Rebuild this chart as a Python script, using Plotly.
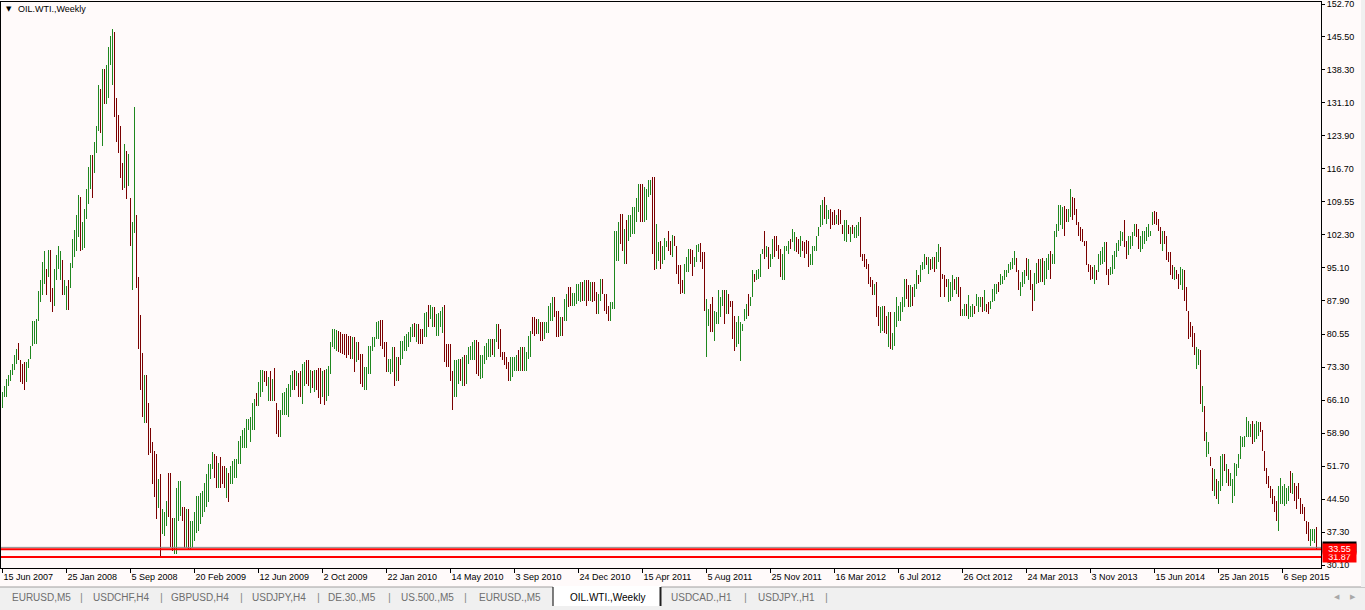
import plotly.graph_objects as go

# ---------------- data ----------------
# weekly bars, index 0 .. 657 ; high / low prices and bar direction (u = up, d = down)
highs = [
    68.0, 69.2, 70.8, 71.6, 72.8, 74.0, 76.0, 77.2, 78.7, 74.8,        # 0
    74.0, 74.4, 74.4, 75.2, 78.0, 83.5, 83.5, 83.9, 89.9, 92.3,        # 10
    96.3, 98.7, 94.7, 99.0, 99.0, 90.7, 94.7, 97.9, 99.8, 98.7,        # 20
    96.7, 92.3, 91.1, 92.3, 96.0, 101.4, 103.4, 106.6, 111.0, 110.6,   # 30
    105.0, 107.8, 112.2, 117.0, 119.7, 119.7, 122.5, 126.1, 134.9, 134.1,  # 40
    138.5, 138.5, 139.3, 143.2, 145.6, 147.2, 146.6, 132.1, 128.5, 126.1,  # 50
    118.0, 122.0, 120.5, 120.0, 110.2, 105.0, 130.1, 106.6, 93.1, 84.7,    # 60
    76.4, 71.6, 71.6, 65.6, 60.0, 57.0, 55.0, 54.3, 48.9, 50.0,        # 70
    42.3, 41.6, 44.1, 50.3, 50.3, 40.4, 40.4, 47.0, 48.5, 48.5,        # 80
    42.7, 42.7, 42.3, 42.3, 39.7, 39.7, 41.6, 45.2, 45.2, 45.9,        # 90
    46.3, 48.1, 49.9, 52.1, 52.1, 54.7, 54.3, 54.0, 52.5, 53.6,        # 100
    51.8, 51.8, 51.4, 50.3, 51.8, 52.9, 53.2, 53.2, 57.2, 58.4,        # 110
    59.6, 60.0, 62.0, 62.0, 62.4, 65.6, 66.4, 67.6, 70.0, 72.8,        # 120
    72.8, 72.4, 72.4, 71.2, 72.4, 70.8, 73.2, 65.6, 64.0, 64.0,        # 130
    67.6, 68.0, 68.8, 69.6, 71.6, 72.4, 72.8, 72.4, 72.0, 72.4,        # 140
    74.0, 74.4, 74.8, 74.8, 72.8, 72.4, 72.8, 72.8, 73.2, 73.2,        # 150
    72.4, 72.8, 73.0, 73.5, 78.8, 81.7, 81.7, 81.5, 81.3, 81.0,        # 160
    80.6, 80.6, 80.5, 80.2, 80.2, 79.9, 79.9, 78.8, 78.8, 76.2,        # 170
    76.2, 73.4, 73.3, 78.0, 78.0, 79.9, 79.9, 83.2, 83.5, 83.7,        # 180
    83.7, 78.8, 78.8, 75.1, 75.1, 77.7, 77.7, 75.5, 75.5, 79.1,        # 190
    79.1, 80.2, 80.6, 81.0, 82.1, 82.8, 82.9, 82.8, 82.8, 81.7,        # 200
    81.7, 85.1, 85.3, 87.0, 87.0, 86.4, 86.4, 85.0, 85.1, 85.7,        # 210
    86.4, 87.0, 78.4, 78.4, 78.4, 72.6, 74.8, 74.8, 75.1, 75.1,        # 220
    75.5, 76.1, 76.1, 77.8, 78.0, 78.8, 79.3, 79.3, 78.8, 76.1,        # 230
    76.1, 78.0, 78.6, 79.5, 79.5, 79.5, 79.5, 82.8, 82.8, 81.7,        # 240
    76.6, 76.6, 75.5, 74.4, 75.5, 75.5, 75.5, 75.9, 77.0, 77.7,        # 250
    77.7, 77.7, 76.6, 80.2, 81.3, 84.4, 84.4, 83.9, 83.9, 83.2,        # 260
    83.2, 83.2, 83.2, 86.8, 87.3, 88.6, 88.6, 85.7, 85.7, 84.4,        # 270
    84.4, 88.3, 89.4, 90.8, 90.8, 89.5, 89.5, 91.5, 91.5, 91.9,        # 280
    91.9, 92.4, 92.4, 92.3, 91.9, 91.9, 91.9, 89.7, 89.4, 92.6,        # 290
    92.6, 89.4, 89.4, 86.6, 87.5, 87.5, 103.2, 103.2, 105.0, 106.9,    # 300
    106.9, 103.6, 105.4, 106.5, 106.5, 108.3, 108.3, 110.2, 113.4, 113.4,  # 310
    113.4, 112.7, 112.3, 114.2, 114.2, 114.9, 114.9, 104.7, 100.7, 101.0,  # 320
    99.9, 101.6, 101.0, 103.2, 101.0, 102.3, 101.9, 99.9, 95.6, 95.6,  # 330
    92.3, 95.9, 97.4, 99.2, 99.2, 99.0, 97.5, 100.1, 100.3, 100.4,     # 340
    98.5, 98.5, 88.3, 86.1, 87.2, 88.6, 85.7, 85.3, 90.1, 88.6,        # 350
    90.1, 90.2, 90.2, 89.4, 87.9, 87.9, 84.6, 83.1, 84.6, 83.1,        # 360
    82.8, 86.1, 87.2, 89.4, 88.6, 94.5, 93.7, 94.5, 94.8, 98.1,        # 370
    99.2, 103.2, 99.9, 99.6, 98.1, 101.4, 102.1, 102.1, 100.1, 99.2,   # 380
    98.1, 99.9, 99.9, 101.0, 101.4, 103.6, 102.9, 101.8, 101.4, 101.9, # 390
    101.0, 100.7, 101.2, 101.0, 98.1, 99.9, 99.9, 102.1, 103.9, 108.7, # 400
    109.8, 110.5, 108.7, 107.6, 108.0, 107.2, 107.6, 106.5, 108.0, 107.6,  # 410
    104.3, 105.4, 105.4, 104.3, 103.9, 104.3, 103.9, 104.3, 105.0, 106.1,  # 420
    98.1, 98.1, 97.0, 95.9, 93.0, 92.3, 91.5, 91.9, 86.8, 86.4,        # 430
    86.8, 86.8, 84.6, 85.3, 85.3, 80.9, 85.3, 88.6, 86.8, 87.5,        # 440
    88.6, 92.6, 92.6, 91.2, 91.2, 90.8, 91.5, 94.5, 93.4, 95.6,        # 450
    96.3, 98.1, 97.4, 97.4, 97.0, 97.4, 97.4, 98.5, 100.3, 99.6,       # 460
    93.7, 93.4, 92.6, 92.6, 91.9, 93.4, 92.6, 93.0, 93.0, 90.8,        # 470
    86.1, 87.2, 87.2, 89.0, 86.8, 87.1, 86.8, 89.4, 88.6, 88.6,        # 480
    88.6, 90.1, 87.2, 87.5, 87.9, 90.5, 91.5, 91.5, 91.9, 93.7,        # 490
    93.2, 94.5, 94.6, 95.8, 96.3, 97.2, 98.7, 97.2, 94.5, 91.9,        # 500
    94.1, 94.5, 97.2, 97.0, 94.6, 91.5, 93.9, 96.1, 97.0, 97.0,        # 510
    97.2, 96.5, 97.2, 98.1, 98.8, 98.1, 103.2, 104.7, 108.7, 108.7,    # 520
    108.3, 108.5, 107.8, 108.0, 112.2, 110.5, 110.2, 108.0, 105.1, 104.0,  # 530
    103.6, 101.0, 101.0, 95.9, 95.6, 95.2, 95.6, 94.5, 98.1, 98.8,     # 540
    99.6, 100.7, 100.7, 94.8, 95.2, 97.8, 98.8, 100.5, 101.2, 103.2,   # 550
    102.9, 105.4, 101.0, 102.1, 102.1, 102.9, 104.7, 104.7, 103.6, 102.1,  # 560
    103.2, 103.2, 104.0, 104.7, 103.2, 107.2, 107.5, 107.2, 105.8, 104.0,  # 570
    103.2, 103.0, 102.1, 98.5, 98.5, 95.6, 95.2, 94.5, 93.7, 95.2,     # 580
    94.8, 94.5, 90.8, 85.7, 83.2, 82.4, 80.7, 77.7, 77.3, 77.0,        # 590
    69.3, 64.9, 59.1, 56.9, 53.6, 51.4, 51.0, 48.9, 48.5, 54.0,        # 600
    54.3, 54.3, 52.1, 51.0, 50.3, 48.9, 52.5, 52.1, 54.3, 58.3,        # 610
    58.0, 58.3, 62.4, 61.6, 60.9, 61.6, 60.9, 61.6, 61.3, 61.3,        # 620
    59.5, 55.1, 51.4, 49.6, 47.4, 46.7, 45.2, 44.1, 47.4, 49.2,        # 630
    47.4, 47.8, 47.0, 47.4, 50.7, 50.3, 48.1, 47.4, 48.1, 44.8,        # 640
    43.4, 42.7, 39.7, 39.4, 37.9, 37.9, 37.9, 38.3,                    # 650
]

lows = [
    64.4, 66.8, 66.8, 69.2, 70.4, 71.6, 72.8, 74.0, 74.8, 70.0,        # 0
    69.6, 68.4, 70.0, 73.2, 75.2, 78.0, 78.4, 78.4, 83.5, 87.5,        # 10
    89.1, 91.5, 89.1, 93.1, 87.5, 85.5, 86.7, 92.3, 94.7, 92.3,        # 20
    89.1, 89.1, 85.9, 85.9, 90.7, 95.1, 97.5, 98.7, 101.8, 98.7,       # 30
    99.0, 99.4, 105.8, 109.0, 112.2, 110.2, 115.8, 120.2, 125.0, 124.5,    # 40
    121.7, 130.9, 130.9, 132.1, 139.3, 134.9, 128.1, 122.5, 120.2, 114.6,  # 50
    112.0, 112.5, 110.0, 113.0, 99.8, 90.3, 102.6, 90.7, 77.2, 68.4,   # 60
    62.4, 61.2, 61.2, 54.1, 54.5, 47.9, 45.0, 40.1, 42.6, 32.1,        # 70
    36.8, 36.4, 38.6, 40.5, 34.0, 33.2, 32.4, 32.4, 39.7, 40.8,        # 80
    39.7, 33.9, 33.9, 33.5, 33.5, 33.9, 35.4, 37.2, 37.5, 39.0,        # 90
    40.5, 41.6, 42.7, 43.8, 48.9, 51.0, 49.2, 47.0, 47.0, 47.0,        # 100
    47.8, 47.0, 44.8, 43.8, 47.8, 47.8, 49.2, 49.2, 52.1, 52.1,        # 110
    55.7, 55.7, 55.7, 59.6, 57.0, 59.6, 59.6, 64.8, 64.8, 66.8,        # 120
    68.0, 70.0, 69.2, 66.0, 66.0, 66.0, 66.0, 58.8, 58.0, 58.0,        # 130
    62.8, 62.8, 62.8, 62.4, 66.8, 68.4, 68.4, 69.2, 66.8, 66.8,        # 140
    65.2, 69.2, 69.6, 69.2, 67.6, 68.8, 68.0, 68.4, 66.5, 65.2,        # 150
    66.8, 65.0, 66.0, 67.0, 71.8, 77.7, 77.3, 76.9, 76.6, 76.4,        # 160
    76.2, 76.1, 75.3, 75.9, 75.1, 75.1, 72.2, 74.4, 74.8, 69.7,        # 170
    69.1, 68.3, 68.3, 71.8, 71.8, 76.9, 77.7, 79.5, 79.5, 78.0,        # 180
    77.3, 75.5, 72.2, 72.2, 71.8, 72.2, 69.3, 70.4, 70.4, 73.7,        # 190
    75.1, 76.9, 76.9, 77.7, 78.8, 79.9, 79.9, 78.8, 78.4, 78.4,        # 200
    78.4, 79.9, 79.9, 82.1, 83.9, 82.2, 82.2, 80.2, 80.2, 82.1,        # 210
    80.9, 74.4, 73.3, 73.4, 70.4, 64.0, 66.9, 66.9, 69.7, 70.4,        # 220
    69.3, 69.3, 69.6, 74.0, 74.8, 74.8, 74.9, 71.8, 71.5, 70.7,        # 230
    71.0, 74.0, 74.8, 75.5, 75.5, 75.9, 75.5, 78.8, 77.3, 75.5,        # 240
    74.8, 73.7, 72.9, 70.4, 70.4, 71.1, 72.6, 72.6, 72.4, 72.4,        # 250
    72.6, 72.6, 72.4, 75.1, 75.5, 80.6, 80.2, 80.6, 80.6, 79.1,        # 260
    79.1, 79.5, 80.9, 80.9, 83.5, 83.5, 84.2, 79.9, 79.9, 80.2,        # 270
    80.2, 83.5, 83.5, 86.4, 86.8, 86.8, 86.8, 87.2, 87.9, 87.5,        # 280
    87.9, 87.8, 86.8, 87.9, 87.9, 87.5, 87.9, 85.0, 85.0, 87.9,        # 290
    89.4, 85.7, 85.0, 83.5, 83.5, 86.1, 86.1, 96.6, 96.6, 100.3,       # 300
    98.8, 95.9, 95.9, 101.0, 101.8, 102.5, 102.5, 105.0, 107.2, 105.0, # 310
    105.0, 105.0, 105.4, 110.5, 110.9, 98.1, 94.5, 94.8, 96.6, 94.8,   # 320
    95.9, 96.7, 99.6, 98.8, 97.8, 97.4, 99.9, 93.7, 91.5, 89.4,        # 330
    89.5, 89.4, 94.1, 94.1, 95.9, 93.2, 95.2, 96.3, 98.5, 96.3,        # 340
    94.8, 85.7, 75.5, 82.4, 81.0, 81.0, 79.1, 82.8, 82.8, 84.2,        # 350
    86.8, 82.8, 85.0, 85.0, 86.4, 79.5, 76.9, 77.7, 78.4, 74.6,        # 360
    81.3, 83.5, 83.9, 84.6, 86.8, 88.6, 91.9, 92.3, 92.6, 93.0,        # 370
    98.1, 97.0, 97.4, 94.8, 95.2, 97.0, 97.4, 98.8, 97.0, 93.0,        # 380
    92.3, 92.3, 98.8, 98.1, 99.2, 100.7, 98.8, 98.5, 98.1, 97.4,       # 390
    98.8, 97.2, 98.1, 95.2, 95.6, 95.6, 98.8, 98.8, 102.1, 103.9,      # 400
    104.3, 105.8, 104.7, 105.8, 103.6, 104.3, 104.5, 104.7, 104.3, 104.7,  # 410
    102.5, 101.0, 100.7, 102.5, 100.7, 102.5, 101.6, 101.6, 102.1, 97.4,   # 420
    96.6, 95.2, 94.8, 91.5, 90.8, 89.0, 89.0, 84.2, 82.4, 80.9,        # 430
    81.3, 80.9, 80.6, 77.7, 77.3, 77.1, 78.0, 82.1, 83.5, 83.5,        # 440
    85.3, 86.4, 88.3, 86.4, 86.4, 86.8, 88.6, 90.4, 91.5, 91.9,        # 450
    94.5, 94.8, 95.6, 93.7, 94.5, 94.8, 94.1, 94.8, 96.3, 88.6,        # 460
    92.6, 88.6, 90.8, 87.5, 87.9, 88.6, 90.1, 89.4, 88.6, 84.6,        # 470
    84.6, 84.6, 84.6, 83.9, 84.2, 84.2, 84.9, 86.8, 85.3, 86.4,        # 480
    85.3, 85.7, 85.3, 84.9, 86.1, 87.5, 87.9, 89.4, 89.8, 91.2,        # 490
    91.5, 92.3, 93.0, 93.9, 94.5, 94.8, 95.6, 94.1, 90.1, 88.8,        # 500
    90.8, 91.5, 93.2, 92.3, 90.1, 85.7, 87.9, 91.5, 91.7, 91.9,        # 510
    91.9, 91.2, 92.6, 94.5, 92.6, 95.9, 95.9, 101.8, 103.2, 104.3,     # 520
    103.6, 102.1, 105.1, 105.1, 106.1, 105.4, 106.5, 104.3, 102.1, 101.0,  # 530
    100.7, 99.9, 95.6, 94.1, 92.3, 92.6, 91.5, 92.3, 94.1, 95.6,       # 540
    95.9, 96.3, 93.4, 91.2, 93.4, 93.7, 94.8, 97.4, 98.8, 99.9,        # 550
    101.0, 99.6, 97.0, 97.8, 99.2, 99.9, 102.1, 101.8, 99.2, 98.5,     # 560
    99.2, 100.3, 101.0, 101.8, 102.1, 104.3, 104.7, 104.3, 103.2, 100.3,   # 570
    98.8, 100.3, 96.7, 96.3, 93.4, 92.6, 92.3, 92.6, 90.5, 91.2,       # 580
    90.1, 87.9, 85.7, 79.5, 79.9, 77.7, 75.9, 73.0, 73.7, 65.3,        # 590
    63.5, 57.2, 53.6, 54.3, 51.8, 46.3, 45.2, 44.5, 43.4, 46.3,        # 600
    47.4, 50.7, 48.1, 47.4, 47.4, 43.7, 45.2, 49.6, 51.4, 53.2,        # 610
    55.8, 55.8, 58.0, 58.0, 58.0, 56.5, 56.9, 57.6, 58.3, 59.1,        # 620
    55.1, 50.7, 47.8, 47.0, 44.8, 43.4, 41.6, 39.7, 37.5, 43.4,        # 630
    43.4, 43.0, 43.4, 44.1, 45.9, 45.6, 44.1, 42.3, 44.5, 41.2,        # 640
    41.2, 39.7, 36.8, 35.4, 34.3, 35.4, 35.0, 33.3,                    # 650
]

direction = "".join([
    "uuuuuuuudd", "dduuuuuuuu", "uududduuuu", "duuduuuuud", "uuuuuduuud",   # 0-49
    "uduuuudddd", "dududuuddd", "duddddddud", "uuuddduuuu", "dduduuuuuu",   # 50-99
    "uuuuuuddud", "dduduuuuuu", "uuuuuuuduu", "uddududddu", "uuuuuududd",   # 100-149
    "uuddududdd", "uduuuuuudd", "dddddududd", "duuuuuuuud", "ddduuududu",   # 150-199
    "uuuuuududd", "duuduuduuu", "uddddduuud", "uduuuuuddu", "uuuuuduudd",   # 200-249
    "dddduuuudu", "duuuudddud", "duuuuudddu", "duudduuuuu", "dudduddduu",   # 250-299
    "dddduuuuud", "duduuuuuud", "duuuudduud", "uuuddudddd", "duuudduuud",   # 300-349
    "dduudduuuu", "ududddduuu", "uuuduuduuu", "ududuudddd", "uuuuduuddu",   # 350-399
    "dddduuuuuu", "uduudddudd", "duududuuud", "dddddduddu", "udduduuuuu",   # 400-449
    "uudduduudu", "uudududuud", "ddduuududd", "uuduuuduuu", "dudduuuudu",   # 450-499
    "uuuuuuuddu", "uududduudu", "duuuduuuuu", "udduuddddd", "dddddduduu",   # 500-549
    "uudduuuuuu", "udduuuuddu", "uuuuuudddd", "uddddduddu", "udddddduud",   # 550-599
    "uduudduduu", "ududuuuuuu", "uuuuuduuud", "dddddddduu", "uuuududddd",   # 600-649
    "dddduuud",                                                             # 650-657
])

# y-axis labels shown on the right-hand price scale
price_ticks = [152.70, 145.50, 138.30, 131.10, 123.90, 116.70, 109.55, 102.30, 95.10,
               87.90, 80.55, 73.30, 66.10, 58.90, 51.70, 44.50, 37.30, 30.10]

# x-axis date labels, one every 32 bars
date_labels = ["15 Jun 2007", "25 Jan 2008", "5 Sep 2008", "20 Feb 2009", "12 Jun 2009",
               "2 Oct 2009", "22 Jan 2010", "14 May 2010", "3 Sep 2010", "24 Dec 2010",
               "15 Apr 2011", "5 Aug 2011", "25 Nov 2011", "16 Mar 2012", "6 Jul 2012",
               "26 Oct 2012", "24 Mar 2013", "3 Nov 2013", "15 Jun 2014", "25 Jan 2015",
               "6 Sep 2015"]
date_label_bars = [32 * k for k in range(len(date_labels))]

# horizontal levels
level_high = 33.55
level_low = 31.87
bid_price = 33.95

tabs = ["EURUSD,M5", "USDCHF,H4", "GBPUSD,H4", "USDJPY,H4", "DE.30.,M5", "US.500.,M5",
        "EURUSD.,M5", "OIL.WTI.,Weekly", "USDCAD.,H1", "USDJPY.,H1"]
active_tab = "OIL.WTI.,Weekly"

# ---------------- figure ----------------
n = min(len(highs), len(lows), len(direction))
idx = list(range(n))
GREEN = "#1F871F"
RED = "#7A0000"
colors = [GREEN if direction[i] == "u" else RED for i in range(n)]

W, H = 1365, 610
PL, PR, PT, PB = 1, 1321, 2, 568   # plot area in pixels
BG = "#FFFAFA"
FONT = "Liberation Sans, Arial, sans-serif"

fig = go.Figure()
fig.add_trace(go.Bar(
    x=idx, base=lows[:n], y=[highs[i] - lows[i] for i in range(n)],
    width=0.5, marker=dict(color=colors, line=dict(width=0)),
    hoverinfo="skip", showlegend=False,
))

def px_x(p):
    return (p - PL) / (PR - PL)

def px_y(p):
    return (PB - p) / (PB - PT)

shapes = []
shapes.append(dict(type="line", xref="paper", yref="y", x0=0, x1=1, y0=bid_price, y1=bid_price,
                   line=dict(color="#8C8C8C", width=1)))
for lv in (level_high, level_low):
    shapes.append(dict(type="line", xref="paper", yref="y", x0=0, x1=1, y0=lv, y1=lv,
                       line=dict(color="#FF0000", width=2)))
# tab bar background
shapes.append(dict(type="rect", xref="paper", yref="paper", x0=px_x(0), x1=px_x(W),
                   y0=px_y(610), y1=px_y(587), fillcolor="#F0F0F0", line=dict(width=0), layer="above"))
shapes.append(dict(type="line", xref="paper", yref="paper", x0=px_x(0), x1=px_x(W),
                   y0=px_y(587), y1=px_y(587), line=dict(color="#A0A0A0", width=1), layer="above"))
# right edge strip
shapes.append(dict(type="rect", xref="paper", yref="paper", x0=px_x(1361), x1=px_x(W),
                   y0=px_y(587), y1=px_y(0), fillcolor="#F0F0F0", line=dict(width=0), layer="above"))

annotations = []
annotations.append(dict(xref="paper", yref="paper", x=px_x(4), y=px_y(9), xanchor="left", yanchor="middle",
                        text="▼", showarrow=False, font=dict(family="DejaVu Sans", size=7, color="#000000")))
annotations.append(dict(xref="paper", yref="paper", x=px_x(16), y=px_y(9), xanchor="left", yanchor="middle",
                        text="OIL.WTI.,Weekly", showarrow=False, font=dict(family=FONT, size=9, color="#000000")))

annotations.append(dict(xref="paper", yref="y", x=1, xshift=1, y=bid_price, xanchor="left", yanchor="middle",
                        text="33.95", showarrow=False, bgcolor="#000000", width=33, height=10, borderpad=0,
                        font=dict(family=FONT, size=9, color="#FFFFFF")))
for lv in (level_low, level_high):
    annotations.append(dict(xref="paper", yref="y", x=1, xshift=1, y=lv, xanchor="left", yanchor="middle",
                            text=f"{lv:.2f}", showarrow=False, bgcolor="#FF0000", width=33, height=10,
                            borderpad=0, font=dict(family=FONT, size=9, color="#FFFFFF")))

tab_centers = [41, 121, 200, 279, 352, 427, 510, 607, 702, 786]
sep_x = [81, 161, 241, 318, 389, 465, 745, 826]
for name, cx in zip(tabs, tab_centers):
    if name == active_tab:
        shapes.append(dict(type="rect", xref="paper", yref="paper", x0=px_x(553), x1=px_x(661),
                           y0=px_y(606), y1=px_y(586), fillcolor="#FFFFFF", line=dict(width=0), layer="above"))
        shapes.append(dict(type="line", xref="paper", yref="paper", x0=px_x(553), x1=px_x(553),
                           y0=px_y(606), y1=px_y(587), line=dict(color="#000000", width=1), layer="above"))
        shapes.append(dict(type="line", xref="paper", yref="paper", x0=px_x(660.5), x1=px_x(660.5),
                           y0=px_y(606), y1=px_y(587), line=dict(color="#202020", width=2), layer="above"))
        col = "#000000"
    else:
        col = "#6E6E6E"
    annotations.append(dict(xref="paper", yref="paper", x=px_x(cx), y=px_y(597), xanchor="center",
                            yanchor="middle", text=name, showarrow=False,
                            font=dict(family=FONT, size=10, color=col)))
for sx in sep_x:
    annotations.append(dict(xref="paper", yref="paper", x=px_x(sx), y=px_y(597), xanchor="center",
                            yanchor="middle", text="|", showarrow=False,
                            font=dict(family=FONT, size=11, color="#8A8A8A")))
for ax_x, sym in ((1337, "◀"), (1353, "▶")):
    annotations.append(dict(xref="paper", yref="paper", x=px_x(ax_x), y=px_y(597), xanchor="center",
                            yanchor="middle", text=sym, showarrow=False,
                            font=dict(family="DejaVu Sans", size=7, color="#A8A8A8")))

bar_px = 2.0
x0_idx = -(2.5 - PL) / bar_px
x1_idx = x0_idx + (PR - PL) / bar_px
ppu = 0.21854   # price per pixel
y_top = 152.70 + (4 - PT) * ppu
y_bot = 152.70 - (PB - 4) * ppu

fig.update_layout(
    width=W, height=H, autosize=False,
    margin=dict(l=PL, r=W - PR, t=PT, b=H - PB, pad=0, autoexpand=False),
    paper_bgcolor=BG, plot_bgcolor=BG,
    font=dict(family=FONT, size=9, color="#000000"),
    showlegend=False, hovermode=False, bargap=0,
    shapes=shapes, annotations=annotations,
    xaxis=dict(range=[x0_idx, x1_idx], showgrid=False, zeroline=False, automargin=False,
               showline=True, mirror=True, linecolor="#000000", linewidth=1,
               tickmode="array", tickvals=date_label_bars, ticktext=date_labels,
               ticks="outside", ticklen=4, tickcolor="#000000", tickwidth=1,
               ticklabelposition="outside right", ticklabeloverflow="allow",
               tickfont=dict(family=FONT, size=9, color="#000000")),
    yaxis=dict(range=[y_bot, y_top], side="right", showgrid=False, zeroline=False, automargin=False,
               showline=True, mirror=True, linecolor="#000000", linewidth=1,
               tickmode="array", tickvals=price_ticks, ticktext=[f"{v:.2f}" for v in price_ticks],
               ticks="outside", ticklen=3, tickcolor="#000000", tickwidth=1, ticklabeloverflow="allow",
               tickfont=dict(family=FONT, size=9, color="#000000")),
)

fig.write_html("out.html", config={"displayModeBar": False})

# remove the browser's default page margin so the figure sits at the window origin
with open("out.html", "r", encoding="utf-8") as fh:
    page = fh.read()
page = page.replace("<head>", "<head><style>html,body{margin:0;padding:0;overflow:hidden;}</style>", 1)
with open("out.html", "w", encoding="utf-8") as fh:
    fh.write(page)
